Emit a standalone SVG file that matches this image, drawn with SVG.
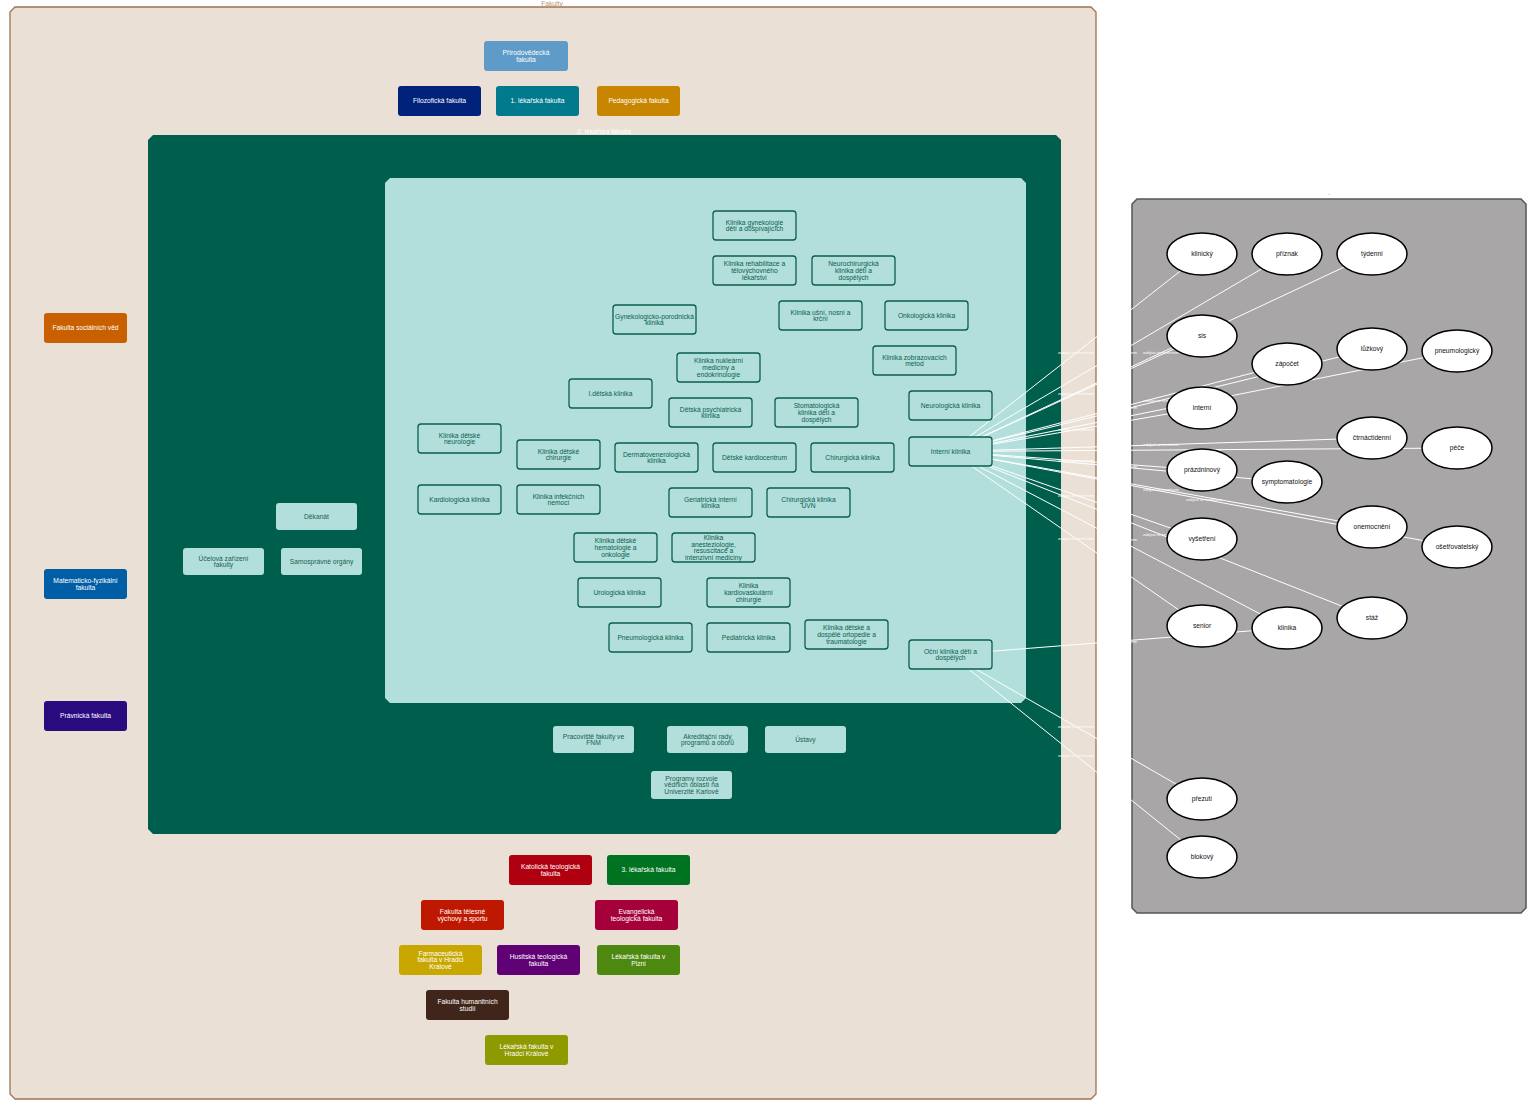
<svg xmlns="http://www.w3.org/2000/svg" width="1539" height="1108" viewBox="0 0 1539 1108">
<style>
text{font-family:"Liberation Sans",Arial,sans-serif;font-size:6.7px;text-anchor:middle}
.fac rect{stroke:none}
.fac text{fill:#ffffff}
.dg rect{fill:#b2dfdb;stroke:none}
.dg text{fill:#1b5e50}
.cl rect{fill:#b2dfdb;stroke:#0b5e4e;stroke-width:1.3}
.cl text{fill:#0b5e4e}
.el ellipse{fill:#ffffff;stroke:#000000;stroke-width:1.5}
.el text{fill:#111111}
.edges line{stroke:#ffffff;stroke-width:1}
.edges text{fill:#ffffff;font-size:4px}
.ttl{font-size:6.7px}
</style>
<rect width="1539" height="1108" fill="#ffffff"/>
<g id="cluster-fakulty">
<path d="M15,7 H1091 L1096,12 V1094 L1091,1099 H15 L10,1094 V12 Z" fill="#ebe0d5" stroke="#a0714f" stroke-width="1.3"/>
<text class="ttl" x="552" y="5.5" fill="#b5957a">Fakulty</text>
</g>
<g id="cluster-2lf">
<path d="M153,135 H1056 L1061,140 V829 L1056,834 H153 L148,829 V140 Z" fill="#005e4d"/>
<text class="ttl" x="604" y="133.5" fill="#ffffff">2. lékařská fakulta</text>
</g>
<g id="cluster-kliniky">
<path d="M390,178 H1021 L1026,183 V698 L1021,703 H390 L385,698 V183 Z" fill="#b2dfdb"/>
</g>
<g id="cluster-terms">
<path d="M1137,199 H1521 L1526,204 V908 L1521,913 H1137 L1132,908 V204 Z" fill="#a9a6a7" stroke="#555555" stroke-width="1.5"/>
<text class="ttl" x="1329" y="197" fill="#777777">·</text>
</g>

<g class="edges" id="connectors">
<line x1="950.5" y1="451.5" x2="1202" y2="254"/>
<line x1="950.5" y1="451.5" x2="1287" y2="254"/>
<line x1="950.5" y1="451.5" x2="1372" y2="254"/>
<line x1="950.5" y1="451.5" x2="1202" y2="336"/>
<line x1="950.5" y1="451.5" x2="1287" y2="364"/>
<line x1="950.5" y1="451.5" x2="1372" y2="349"/>
<line x1="950.5" y1="451.5" x2="1457" y2="351"/>
<line x1="950.5" y1="451.5" x2="1202" y2="408"/>
<line x1="950.5" y1="451.5" x2="1372" y2="438"/>
<line x1="950.5" y1="451.5" x2="1457" y2="448"/>
<line x1="950.5" y1="451.5" x2="1202" y2="470"/>
<line x1="950.5" y1="451.5" x2="1287" y2="482"/>
<line x1="950.5" y1="451.5" x2="1372" y2="527"/>
<line x1="950.5" y1="451.5" x2="1457" y2="547"/>
<line x1="950.5" y1="451.5" x2="1202" y2="539"/>
<line x1="950.5" y1="451.5" x2="1372" y2="618"/>
<line x1="950.5" y1="451.5" x2="1202" y2="626"/>
<line x1="950.5" y1="451.5" x2="1287" y2="628"/>
<line x1="950.5" y1="654.5" x2="1287" y2="628"/>
<line x1="950.5" y1="654.5" x2="1202" y2="799"/>
<line x1="950.5" y1="654.5" x2="1202" y2="857"/>
<text x="1076" y="354">zabývá se termínem</text>
<text x="1119" y="354">zabývá se termínem</text>
<text x="1161" y="354">zabývá se termínem</text>
<text x="1076" y="395">zabývá se termínem</text>
<text x="1119" y="409">zabývá se termínem</text>
<text x="1161" y="401.5">zabývá se termínem</text>
<text x="1204" y="402.5">zabývá se termínem</text>
<text x="1076" y="431">zabývá se termínem</text>
<text x="1161" y="446">zabývá se termínem</text>
<text x="1204" y="451">zabývá se termínem</text>
<text x="1076" y="462">zabývá se termínem</text>
<text x="1119" y="468">zabývá se termínem</text>
<text x="1161" y="490.5">zabývá se termínem</text>
<text x="1204" y="500.5">zabývá se termínem</text>
<text x="1076" y="496.5">zabývá se termínem</text>
<text x="1161" y="536">zabývá se termínem</text>
<text x="1076" y="540">zabývá se termínem</text>
<text x="1119" y="541">zabývá se termínem</text>
<text x="1119" y="642.5">zabývá se termínem</text>
<text x="1076" y="728">zabývá se termínem</text>
<text x="1076" y="757">zabývá se termínem</text>
</g>

<g class="fac">
<g id="prf"><rect x="484" y="41" width="84" height="30" rx="3" fill="#5f9bc8"/><text x="526" y="55"><tspan x="526">Přírodovědecká</tspan><tspan x="526" y="61.8">fakulta</tspan></text></g>
<g id="ff"><rect x="398" y="86" width="83" height="30" rx="3" fill="#00227a"/><text x="439.5" y="103.4">Filozofická fakulta</text></g>
<g id="lf1"><rect x="496" y="86" width="83" height="30" rx="3" fill="#007a8c"/><text x="537.5" y="103.4">1. lékařská fakulta</text></g>
<g id="pedf"><rect x="597" y="86" width="83" height="30" rx="3" fill="#c88600"/><text x="638.5" y="103.4">Pedagogická fakulta</text></g>
<g id="fsv"><rect x="44" y="313" width="83" height="30" rx="3" fill="#c86000"/><text x="85.5" y="330.4">Fakulta sociálních věd</text></g>
<g id="mff"><rect x="44" y="569" width="83" height="30" rx="3" fill="#005ea6"/><text x="85.5" y="583"><tspan x="85.5">Matematicko-fyzikální</tspan><tspan x="85.5" y="589.8">fakulta</tspan></text></g>
<g id="pf"><rect x="44" y="701" width="83" height="30" rx="3" fill="#2a0a7f"/><text x="85.5" y="718.4">Právnická fakulta</text></g>
<g id="ktf"><rect x="509" y="855" width="83" height="30" rx="3" fill="#b0000f"/><text x="550.5" y="869"><tspan x="550.5">Katolická teologická</tspan><tspan x="550.5" y="875.8">fakulta</tspan></text></g>
<g id="lf3"><rect x="607" y="855" width="83" height="30" rx="3" fill="#007321"/><text x="648.5" y="872.4">3. lékařská fakulta</text></g>
<g id="ftvs"><rect x="421" y="900" width="83" height="30" rx="3" fill="#bf1800"/><text x="462.5" y="914"><tspan x="462.5">Fakulta tělesné</tspan><tspan x="462.5" y="920.8">výchovy a sportu</tspan></text></g>
<g id="etf"><rect x="595" y="900" width="83" height="30" rx="3" fill="#a5003a"/><text x="636.5" y="914"><tspan x="636.5">Evangelická</tspan><tspan x="636.5" y="920.8">teologická fakulta</tspan></text></g>
<g id="faf"><rect x="399" y="945" width="83" height="30" rx="3" fill="#c8a800"/><text x="440.5" y="955.6"><tspan x="440.5">Farmaceutická</tspan><tspan x="440.5" y="962.4">fakulta v Hradci</tspan><tspan x="440.5" y="969.2">Králové</tspan></text></g>
<g id="htf"><rect x="497" y="945" width="83" height="30" rx="3" fill="#5f0075"/><text x="538.5" y="959"><tspan x="538.5">Husitská teologická</tspan><tspan x="538.5" y="965.8">fakulta</tspan></text></g>
<g id="lfp"><rect x="597" y="945" width="83" height="30" rx="3" fill="#4d8810"/><text x="638.5" y="959"><tspan x="638.5">Lékařská fakulta v</tspan><tspan x="638.5" y="965.8">Plzni</tspan></text></g>
<g id="fhs"><rect x="426" y="990" width="83" height="30" rx="3" fill="#40261a"/><text x="467.5" y="1004"><tspan x="467.5">Fakulta humanitních</tspan><tspan x="467.5" y="1010.8">studií</tspan></text></g>
<g id="lfhk"><rect x="485" y="1035" width="83" height="30" rx="3" fill="#8f9a00"/><text x="526.5" y="1049"><tspan x="526.5">Lékařská fakulta v</tspan><tspan x="526.5" y="1055.8">Hradci Králové</tspan></text></g>
</g>

<g class="dg">
<g id="dekanat"><rect x="276" y="503" width="81" height="27" rx="3"/><text x="316.5" y="518.9">Děkanát</text></g>
<g id="uzf"><rect x="183" y="548" width="81" height="27" rx="3"/><text x="223.5" y="560.5"><tspan x="223.5">Účelová zařízení</tspan><tspan x="223.5" y="567.3">fakulty</tspan></text></g>
<g id="so"><rect x="281" y="548" width="81" height="27" rx="3"/><text x="321.5" y="563.9">Samosprávné orgány</text></g>
<g id="pfnm"><rect x="553" y="726" width="81" height="27" rx="3"/><text x="593.5" y="738.5"><tspan x="593.5">Pracoviště fakulty ve</tspan><tspan x="593.5" y="745.3">FNM</tspan></text></g>
<g id="ar"><rect x="667" y="726" width="81" height="27" rx="3"/><text x="707.5" y="738.5"><tspan x="707.5">Akreditační rady</tspan><tspan x="707.5" y="745.3">programů a oborů</tspan></text></g>
<g id="ustavy"><rect x="765" y="726" width="81" height="27" rx="3"/><text x="805.5" y="741.9">Ústavy</text></g>
<g id="prog"><rect x="651" y="771" width="81" height="28" rx="3"/><text x="691.5" y="780.6"><tspan x="691.5">Programy rozvoje</tspan><tspan x="691.5" y="787.4">vědních oblastí na</tspan><tspan x="691.5" y="794.2">Univerzitě Karlově</tspan></text></g>
</g>

<g class="cl">
<g id="kgd"><rect x="713" y="211" width="83" height="29" rx="3"/><text x="754.5" y="224.5"><tspan x="754.5">Klinika gynekologie</tspan><tspan x="754.5" y="231.3">dětí a dospívajících</tspan></text></g>
<g id="krtl"><rect x="713" y="256" width="83" height="29" rx="3"/><text x="754.5" y="266.1"><tspan x="754.5">Klinika rehabilitace a</tspan><tspan x="754.5" y="272.9">tělovýchovného</tspan><tspan x="754.5" y="279.7">lékařství</tspan></text></g>
<g id="nch"><rect x="812" y="256" width="83" height="29" rx="3"/><text x="853.5" y="266.1"><tspan x="853.5">Neurochirurgická</tspan><tspan x="853.5" y="272.9">klinika dětí a</tspan><tspan x="853.5" y="279.7">dospělých</tspan></text></g>
<g id="gpk"><rect x="613" y="305" width="83" height="29" rx="3"/><text x="654.5" y="318.5"><tspan x="654.5">Gynekologicko-porodnická</tspan><tspan x="654.5" y="325.3">klinika</tspan></text></g>
<g id="kunk"><rect x="779" y="301" width="83" height="29" rx="3"/><text x="820.5" y="314.5"><tspan x="820.5">Klinika ušní, nosní a</tspan><tspan x="820.5" y="321.3">krční</tspan></text></g>
<g id="onk"><rect x="885" y="301" width="83" height="29" rx="3"/><text x="926.5" y="317.9">Onkologická klinika</text></g>
<g id="knm"><rect x="677" y="353" width="83" height="29" rx="3"/><text x="718.5" y="363.1"><tspan x="718.5">Klinika nukleární</tspan><tspan x="718.5" y="369.9">medicíny a</tspan><tspan x="718.5" y="376.7">endokrinologie</tspan></text></g>
<g id="kzm"><rect x="873" y="346" width="83" height="29" rx="3"/><text x="914.5" y="359.5"><tspan x="914.5">Klinika zobrazovacích</tspan><tspan x="914.5" y="366.3">metod</tspan></text></g>
<g id="idk"><rect x="569" y="379" width="83" height="29" rx="3"/><text x="610.5" y="395.9">I.dětská klinika</text></g>
<g id="dpk"><rect x="669" y="398" width="83" height="29" rx="3"/><text x="710.5" y="411.5"><tspan x="710.5">Dětská psychiatrická</tspan><tspan x="710.5" y="418.3">klinika</tspan></text></g>
<g id="stom"><rect x="775" y="398" width="83" height="29" rx="3"/><text x="816.5" y="408.1"><tspan x="816.5">Stomatologická</tspan><tspan x="816.5" y="414.9">klinika dětí a</tspan><tspan x="816.5" y="421.7">dospělých</tspan></text></g>
<g id="neur"><rect x="909" y="391" width="83" height="29" rx="3"/><text x="950.5" y="407.9">Neurologická klinika</text></g>
<g id="interni-klinika"><rect x="909" y="437" width="83" height="29" rx="3"/><text x="950.5" y="453.9">Interní klinika</text></g>
<g id="kdn"><rect x="418" y="424" width="83" height="29" rx="3"/><text x="459.5" y="437.5"><tspan x="459.5">Klinika dětské</tspan><tspan x="459.5" y="444.3">neurologie</tspan></text></g>
<g id="kdch"><rect x="517" y="440" width="83" height="29" rx="3"/><text x="558.5" y="453.5"><tspan x="558.5">Klinika dětské</tspan><tspan x="558.5" y="460.3">chirurgie</tspan></text></g>
<g id="derm"><rect x="615" y="443" width="83" height="29" rx="3"/><text x="656.5" y="456.5"><tspan x="656.5">Dermatovenerologická</tspan><tspan x="656.5" y="463.3">klinika</tspan></text></g>
<g id="dk"><rect x="713" y="443" width="83" height="29" rx="3"/><text x="754.5" y="459.9">Dětské kardiocentrum</text></g>
<g id="chk"><rect x="811" y="443" width="83" height="29" rx="3"/><text x="852.5" y="459.9">Chirurgická klinika</text></g>
<g id="kard"><rect x="418" y="485" width="83" height="29" rx="3"/><text x="459.5" y="501.9">Kardiologická klinika</text></g>
<g id="kin"><rect x="517" y="485" width="83" height="29" rx="3"/><text x="558.5" y="498.5"><tspan x="558.5">Klinika infekčních</tspan><tspan x="558.5" y="505.3">nemocí</tspan></text></g>
<g id="ger"><rect x="669" y="488" width="83" height="29" rx="3"/><text x="710.5" y="501.5"><tspan x="710.5">Geriatrická interní</tspan><tspan x="710.5" y="508.3">klinika</tspan></text></g>
<g id="chuvn"><rect x="767" y="488" width="83" height="29" rx="3"/><text x="808.5" y="501.5"><tspan x="808.5">Chirurgická klinika</tspan><tspan x="808.5" y="508.3">ÚVN</tspan></text></g>
<g id="kdho"><rect x="574" y="533" width="83" height="29" rx="3"/><text x="615.5" y="543.1"><tspan x="615.5">Klinika dětské</tspan><tspan x="615.5" y="549.9">hematologie a</tspan><tspan x="615.5" y="556.7">onkologie</tspan></text></g>
<g id="kar"><rect x="672" y="533" width="83" height="29" rx="3"/><text x="713.5" y="539.7"><tspan x="713.5">Klinika</tspan><tspan x="713.5" y="546.5">anesteziologie,</tspan><tspan x="713.5" y="553.3">resuscitace a</tspan><tspan x="713.5" y="560.1">intenzivní medicíny</tspan></text></g>
<g id="uro"><rect x="578" y="578" width="83" height="29" rx="3"/><text x="619.5" y="594.9">Urologická klinika</text></g>
<g id="kkch"><rect x="707" y="578" width="83" height="29" rx="3"/><text x="748.5" y="588.1"><tspan x="748.5">Klinika</tspan><tspan x="748.5" y="594.9">kardiovaskulární</tspan><tspan x="748.5" y="601.7">chirurgie</tspan></text></g>
<g id="pneu"><rect x="609" y="623" width="83" height="29" rx="3"/><text x="650.5" y="639.9">Pneumologická klinika</text></g>
<g id="ped"><rect x="707" y="623" width="83" height="29" rx="3"/><text x="748.5" y="639.9">Pediatrická klinika</text></g>
<g id="orto"><rect x="805" y="620" width="83" height="29" rx="3"/><text x="846.5" y="630.1"><tspan x="846.5">Klinika dětské a</tspan><tspan x="846.5" y="636.9">dospělé ortopedie a</tspan><tspan x="846.5" y="643.7">traumatologie</tspan></text></g>
<g id="ocni"><rect x="909" y="640" width="83" height="29" rx="3"/><text x="950.5" y="653.5"><tspan x="950.5">Oční klinika dětí a</tspan><tspan x="950.5" y="660.3">dospělých</tspan></text></g>
</g>

<g class="el">
<g id="t-klinicky"><ellipse cx="1202" cy="254" rx="35" ry="21"/><text x="1202" y="256.4">klinický</text></g>
<g id="t-priznak"><ellipse cx="1287" cy="254" rx="35" ry="21"/><text x="1287" y="256.4">příznak</text></g>
<g id="t-tydenni"><ellipse cx="1372" cy="254" rx="35" ry="21"/><text x="1372" y="256.4">týdenní</text></g>
<g id="t-sis"><ellipse cx="1202" cy="336" rx="35" ry="21"/><text x="1202" y="338.4">sis</text></g>
<g id="t-zapocet"><ellipse cx="1287" cy="364" rx="35" ry="21"/><text x="1287" y="366.4">zápočet</text></g>
<g id="t-luzkovy"><ellipse cx="1372" cy="349" rx="35" ry="21"/><text x="1372" y="351.4">lůžkový</text></g>
<g id="t-pneumologicky"><ellipse cx="1457" cy="351" rx="35" ry="21"/><text x="1457" y="353.4">pneumologický</text></g>
<g id="t-interni"><ellipse cx="1202" cy="408" rx="35" ry="21"/><text x="1202" y="410.4">interní</text></g>
<g id="t-ctrnactidenni"><ellipse cx="1372" cy="438" rx="35" ry="21"/><text x="1372" y="440.4">čtrnáctidenní</text></g>
<g id="t-pece"><ellipse cx="1457" cy="448" rx="35" ry="21"/><text x="1457" y="450.4">péče</text></g>
<g id="t-prazdninovy"><ellipse cx="1202" cy="470" rx="35" ry="21"/><text x="1202" y="472.4">prázdninový</text></g>
<g id="t-symptomatologie"><ellipse cx="1287" cy="482" rx="35" ry="21"/><text x="1287" y="484.4">symptomatologie</text></g>
<g id="t-onemocneni"><ellipse cx="1372" cy="527" rx="35" ry="21"/><text x="1372" y="529.4">onemocnění</text></g>
<g id="t-osetrovatelsky"><ellipse cx="1457" cy="547" rx="35" ry="21"/><text x="1457" y="549.4">ošetřovatelský</text></g>
<g id="t-vysetreni"><ellipse cx="1202" cy="539" rx="35" ry="21"/><text x="1202" y="541.4">vyšetření</text></g>
<g id="t-staz"><ellipse cx="1372" cy="618" rx="35" ry="21"/><text x="1372" y="620.4">stáž</text></g>
<g id="t-senior"><ellipse cx="1202" cy="626" rx="35" ry="21"/><text x="1202" y="628.4">senior</text></g>
<g id="t-klinika"><ellipse cx="1287" cy="628" rx="35" ry="21"/><text x="1287" y="630.4">klinika</text></g>
<g id="t-prezuti"><ellipse cx="1202" cy="799" rx="35" ry="21"/><text x="1202" y="801.4">přezutí</text></g>
<g id="t-blokovy"><ellipse cx="1202" cy="857" rx="35" ry="21"/><text x="1202" y="859.4">blokový</text></g>
</g>
</svg>
